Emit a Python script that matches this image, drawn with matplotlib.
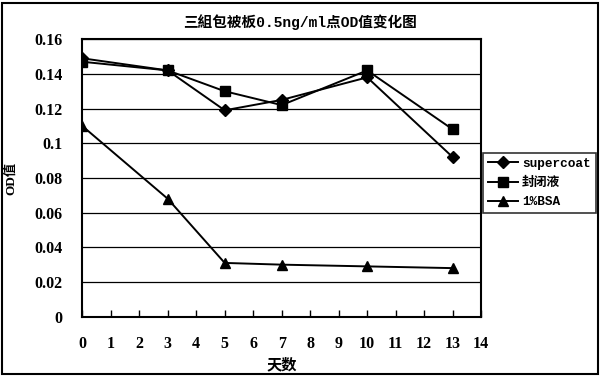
import numpy as np
import matplotlib.pyplot as plt
from matplotlib.patches import Rectangle

# data
days = [0, 3, 5, 7, 10, 13]
supercoat = [0.149, 0.142, 0.119, 0.125, 0.138, 0.092]
blocking = [0.147, 0.142, 0.130, 0.122, 0.142, 0.108]
bsa = [0.110, 0.068, 0.031, 0.030, 0.029, 0.028]
series_names = ['supercoat', '封闭液', '1%BSA']
x_ticks = list(range(0, 15))
y_ticks = [0, 0.02, 0.04, 0.06, 0.08, 0.1, 0.12, 0.14, 0.16]
y_tick_labels = ['0', '0.02', '0.04', '0.06', '0.08', '0.1', '0.12', '0.14', '0.16']

mixed = ['Liberation Serif', 'Noto Sans CJK SC']
mono = ['Liberation Mono', 'Noto Sans CJK SC']

fig = plt.figure(figsize=(6, 3.77), dpi=100)
ax = fig.add_axes([0.137, 0.16, 0.665, 0.736])

ax.plot(days, supercoat, color='black', lw=1.4, marker='D', ms=6, label=series_names[0])
ax.plot(days, blocking, color='black', lw=1.4, marker='s', ms=6.5, label=series_names[1])
ax.plot(days, bsa, color='black', lw=1.4, marker='^', ms=7.5, label=series_names[2])

ax.set_xlim(0, 14)
ax.set_ylim(0, 0.16)
ax.set_xticks(x_ticks)
ax.set_xticklabels([str(t) for t in x_ticks], family=mixed, fontweight='bold', fontsize=11.5)
ax.set_yticks(y_ticks)
ax.set_yticklabels(y_tick_labels, family=mixed, fontweight='bold', fontsize=11.5)
ax.tick_params(axis='x', direction='in', length=5, width=1, pad=14)
ax.tick_params(axis='y', length=0, pad=14)
ax.grid(axis='y', color='black', lw=0.9)
ax.set_axisbelow(True)
for s in ax.spines.values():
    s.set_linewidth(1.5)

ax.set_xlabel('天数', family=mixed, fontweight='bold', fontsize=11, labelpad=4)
ax.set_ylabel('OD值', family=mixed, fontweight='bold', fontsize=9.5)
ax.yaxis.set_label_coords(-0.163, 0.5)

fig.text(0.5, 0.942, '三組包被板0.5ng/ml点OD值变化图', ha='center', va='center',
         family=mono, fontweight='bold', fontsize=10.5)

leg = ax.legend(loc='center left', bbox_to_anchor=(483 / 600, 1 - 183 / 377),
                bbox_transform=fig.transFigure, frameon=True, fancybox=False,
                edgecolor='black', borderpad=0.4, borderaxespad=0, handlelength=2.3,
                handletextpad=0.35, labelspacing=0.55,
                prop={'family': mono, 'weight': 'bold', 'size': 9.2})
leg.get_frame().set_linewidth(1.2)

# outer frame of the chart area
fig.patches.append(Rectangle((0.004, 0.008), 0.992, 0.984, transform=fig.transFigure,
                             fill=False, edgecolor='black', lw=1.5))

fig.savefig('out.png', dpi=100)
